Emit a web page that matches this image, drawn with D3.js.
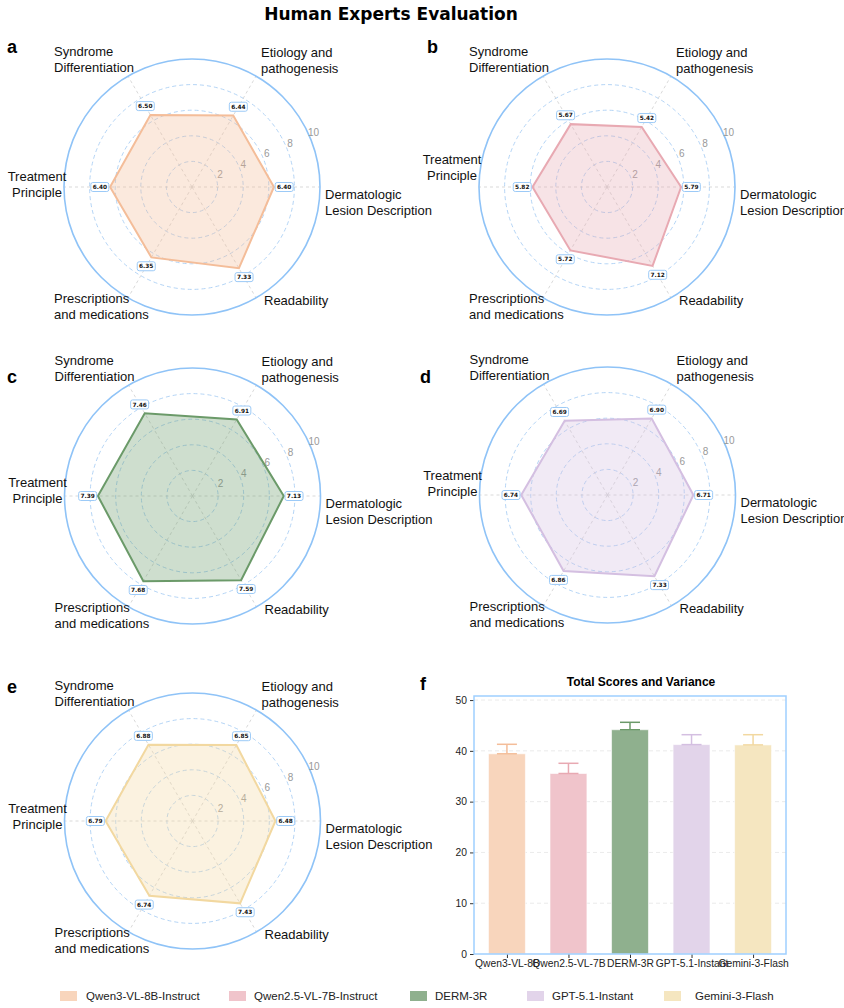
<!DOCTYPE html>
<html>
<head>
<meta charset="utf-8">
<script src="https://cdn.jsdelivr.net/npm/d3@7/dist/d3.min.js"></script>
<style>
  body { margin: 0; background: #fff; }
  svg { display: block; font-family: "Liberation Sans", Arial, sans-serif; }
</style>
</head>
<body>
<div id="chart"></div>
<script>
// categories go counter-clockwise starting at 3 o'clock
const categories = [
    "Dermatologic\nLesion Description",
    "Etiology and\npathogenesis",
    "Syndrome\nDifferentiation",
    "Treatment\nPrinciple",
    "Prescriptions\nand medications",
    "Readability"
];
const models = ["Qwen3-VL-8B-Instruct", "Qwen2.5-VL-7B-Instruct", "DERM-3R", "GPT-5.1-Instant", "Gemini-3-Flash"];
const shortNames = ["Qwen3-VL-8B", "Qwen2.5-VL-7B", "DERM-3R", "GPT-5.1-Instant", "Gemini-3-Flash"];

const qwen3Scores  = [6.40, 6.44, 6.50, 6.40, 6.35, 7.33];
const qwen25Scores = [5.79, 5.42, 5.67, 5.82, 5.72, 7.12];
const dermScores   = [7.13, 6.91, 7.46, 7.39, 7.68, 7.59];
const gptScores    = [6.71, 6.90, 6.69, 6.74, 6.86, 7.33];
const geminiScores = [6.48, 6.85, 6.88, 6.79, 6.74, 7.43];

const totalScores = [39.42, 35.54, 44.16, 41.23, 41.17];
const totalErrors = [1.87, 2.01, 1.46, 1.95, 2.01];

const radialTicks = [2, 4, 6, 8, 10];
const barTicks = [0, 10, 20, 30, 40, 50];

const barColors  = ["#f8d5bc", "#f0c4cb", "#8fb08e", "#e2d4ea", "#f5e6c0"];
const lineColors = ["#f4bd99", "#e8a9b2", "#6b9a69", "#d4bfe1", "#f2d8a0"];

const svg = d3.select("#chart")
    .append("svg")
    .attr("width", 844)
    .attr("height", 1008);

svg.append("rect").attr("width", 844).attr("height", 1008).attr("fill", "#fff");

svg.append("text")
    .attr("x", 391)
    .attr("y", 20)
    .attr("text-anchor", "middle")
    .style("font-family", "'DejaVu Sans', sans-serif")
    .style("font-weight", "bold")
    .style("font-size", "17px")
    .text("Human Experts Evaluation");

// ---------- radar panels ----------
const rScale = d3.scaleLinear().domain([0, 10]).range([0, 128]);
// d3 radial angle: 0 at top, clockwise
const angleOf = i => Math.PI / 2 - i * Math.PI / 3;
const px = (i, v) => rScale(v) * Math.sin(angleOf(i));
const py = (i, v) => -rScale(v) * Math.cos(angleOf(i));

const panels = [
    { letter: "a", cx: 192,   cy: 187, scores: qwen3Scores,  m: 0, lx: 7,   ly: 53,  treatDy: -11 },
    { letter: "b", cx: 607,   cy: 187, scores: qwen25Scores, m: 1, lx: 427, ly: 53,  treatDy: -28 },
    { letter: "c", cx: 192.5, cy: 496, scores: dermScores,   m: 2, lx: 7,   ly: 383, treatDy: -14 },
    { letter: "d", cx: 607.5, cy: 495, scores: gptScores,    m: 3, lx: 420, ly: 383, treatDy: -20 },
    { letter: "e", cx: 192.5, cy: 821, scores: geminiScores, m: 4, lx: 7,   ly: 693, treatDy: -13 }
];

// where each category label sits relative to the centre (line centres)
const catLayout = [
    { dx: 133,  dy: 7,    anchor: "start" },
    { dx: 69,   dy: -135, anchor: "start" },
    { dx: -138, dy: -136, anchor: "start" },
    { dx: -155, dy: null, anchor: "middle" },
    { dx: -138, dy: 111,  anchor: "start" },
    { dx: 72,   dy: 113,  anchor: "start" }
];

const radarLine = d3.lineRadial()
    .angle((d, i) => angleOf(i))
    .radius(d => rScale(d))
    .curve(d3.curveLinearClosed);

panels.forEach(p => {
    svg.append("text")
        .attr("x", p.lx)
        .attr("y", p.ly)
        .style("font-weight", "bold")
        .style("font-size", "18px")
        .text(p.letter);

    const g = svg.append("g").attr("transform", `translate(${p.cx}, ${p.cy})`);

    // dashed rings
    g.selectAll(".ring")
        .data(radialTicks.slice(0, -1))
        .enter()
        .append("circle")
            .attr("r", d => rScale(d))
            .attr("fill", "none")
            .attr("stroke", "#abcff4")
            .attr("stroke-width", 0.9)
            .attr("stroke-dasharray", "4,3");

    // spokes
    g.selectAll(".spoke")
        .data(categories)
        .enter()
        .append("line")
            .attr("x1", 0).attr("y1", 0)
            .attr("x2", (d, i) => px(i, 10))
            .attr("y2", (d, i) => py(i, 10))
            .attr("stroke", "#cfcfcf")
            .attr("stroke-width", 0.8)
            .attr("stroke-dasharray", "3,3");

    // outer frame
    g.append("circle")
        .attr("r", rScale(10))
        .attr("fill", "none")
        .attr("stroke", "#8fc3f7")
        .attr("stroke-width", 1.6);

    // radial tick labels
    const tickAng = 24 * Math.PI / 180;
    g.selectAll(".rtick")
        .data(radialTicks)
        .enter()
        .append("text")
            .attr("x", d => (rScale(d) + 5) * Math.cos(tickAng))
            .attr("y", d => -(rScale(d) + 5) * Math.sin(tickAng) + 3.5)
            .attr("text-anchor", "middle")
            .style("font-size", "10px")
            .style("fill", "#999")
            .text(d => d);

    // polygon
    g.append("path")
        .datum(p.scores)
        .attr("d", radarLine)
        .attr("fill", lineColors[p.m])
        .attr("fill-opacity", 0.33)
        .attr("stroke", lineColors[p.m])
        .attr("stroke-width", 2)
        .attr("stroke-linejoin", "miter");

    // value boxes
    const vb = g.selectAll(".vbox")
        .data(p.scores)
        .enter()
        .append("g")
            .attr("transform", (d, i) => `translate(${px(i, d + 0.8)}, ${py(i, d + 0.8)})`);
    vb.append("rect")
        .attr("x", -9).attr("y", -4.5)
        .attr("width", 18).attr("height", 9)
        .attr("rx", 2)
        .attr("fill", "#fff")
        .attr("stroke", "#9ccaf7")
        .attr("stroke-width", 1);
    vb.append("text")
        .attr("y", 2.2)
        .attr("text-anchor", "middle")
        .style("font-family", "'DejaVu Sans', sans-serif")
        .style("font-weight", "bold")
        .style("font-size", "5.8px")
        .style("fill", "#111")
        .text(d => d.toFixed(2));

    // category labels
    categories.forEach((c, i) => {
        const lay = catLayout[i];
        const dy0 = lay.dy === null ? p.treatDy : lay.dy;
        const t = g.append("text")
            .attr("text-anchor", lay.anchor)
            .style("font-size", "13px")
            .style("fill", "#111");
        c.split("\n").forEach((line, k) => {
            t.append("tspan")
                .attr("x", lay.dx)
                .attr("y", dy0 + 4.5 + k * 16)
                .text(line);
        });
    });
});

// ---------- bar panel ----------
svg.append("text")
    .attr("x", 420)
    .attr("y", 690)
    .style("font-weight", "bold")
    .style("font-size", "18px")
    .text("f");

svg.append("text")
    .attr("x", 641)
    .attr("y", 686)
    .attr("text-anchor", "middle")
    .style("font-weight", "bold")
    .style("font-size", "12px")
    .text("Total Scores and Variance");

const x = d3.scaleLinear().domain([-0.535, 4.535]).range([474, 786]);
const y = d3.scaleLinear().domain([0, 50.8]).range([954, 696]);
const halfW = 0.3;

const bars = svg.append("g");

bars.selectAll(".grid")
    .data(barTicks.slice(1))
    .enter()
    .append("line")
        .attr("x1", 474).attr("x2", 786)
        .attr("y1", d => y(d)).attr("y2", d => y(d))
        .attr("stroke", "#e4e4e4")
        .attr("stroke-width", 0.8)
        .attr("stroke-dasharray", "4,3");

bars.selectAll(".bar")
    .data(totalScores)
    .enter()
    .append("rect")
        .attr("x", (d, i) => x(i - halfW))
        .attr("width", x(halfW) - x(-halfW))
        .attr("y", d => y(d))
        .attr("height", d => y(0) - y(d))
        .attr("fill", (d, i) => barColors[i])
        .attr("stroke", "#fff")
        .attr("stroke-opacity", 0.6)
        .attr("stroke-width", 1);

// error bars (upper only)
const eb = bars.selectAll(".err")
    .data(totalScores)
    .enter()
    .append("g")
        .attr("stroke", (d, i) => lineColors[i])
        .attr("stroke-width", 1.5);
eb.append("line")
    .attr("x1", (d, i) => x(i)).attr("x2", (d, i) => x(i))
    .attr("y1", d => y(d))
    .attr("y2", (d, i) => y(d + totalErrors[i]));
eb.append("line")
    .attr("x1", (d, i) => x(i) - 10).attr("x2", (d, i) => x(i) + 10)
    .attr("y1", (d, i) => y(d + totalErrors[i]))
    .attr("y2", (d, i) => y(d + totalErrors[i]));
eb.append("line")
    .attr("x1", (d, i) => x(i) - 10).attr("x2", (d, i) => x(i) + 10)
    .attr("y1", d => y(d))
    .attr("y2", d => y(d));

const yAxis = svg.append("g")
    .attr("transform", "translate(474, 0)")
    .call(d3.axisLeft(y).tickValues(barTicks).tickSize(4).tickPadding(3));
const xAxis = svg.append("g")
    .attr("transform", "translate(0, 954)")
    .call(d3.axisBottom(x).tickValues(d3.range(shortNames.length)).tickFormat(i => shortNames[i]).tickSize(4).tickPadding(2));

[yAxis, xAxis].forEach(ax => {
    ax.select(".domain").remove();
    ax.selectAll("line").attr("stroke", "#333");
    ax.selectAll("text")
        .style("font-family", "'Liberation Sans', Arial, sans-serif")
        .style("font-size", "10.3px")
        .style("fill", "#222");
});

svg.append("rect")
    .attr("x", 474).attr("y", 696)
    .attr("width", 312).attr("height", 258)
    .attr("fill", "none")
    .attr("stroke", "#9fcfff")
    .attr("stroke-width", 1.5);

// ---------- legend ----------
const legendSquareX = [60, 229, 410, 527, 664];
const legendTextX = [86, 254, 435, 552, 695];

const legend = svg.append("g");
legend.selectAll("rect")
    .data(models)
    .enter()
    .append("rect")
        .attr("x", (d, i) => legendSquareX[i])
        .attr("y", 991)
        .attr("width", 17)
        .attr("height", 10)
        .attr("fill", (d, i) => barColors[i]);
legend.selectAll("text")
    .data(models)
    .enter()
    .append("text")
        .attr("x", (d, i) => legendTextX[i])
        .attr("y", 1000)
        .style("font-size", "11.5px")
        .style("fill", "#222")
        .text(d => d);
</script>
</body>
</html>
